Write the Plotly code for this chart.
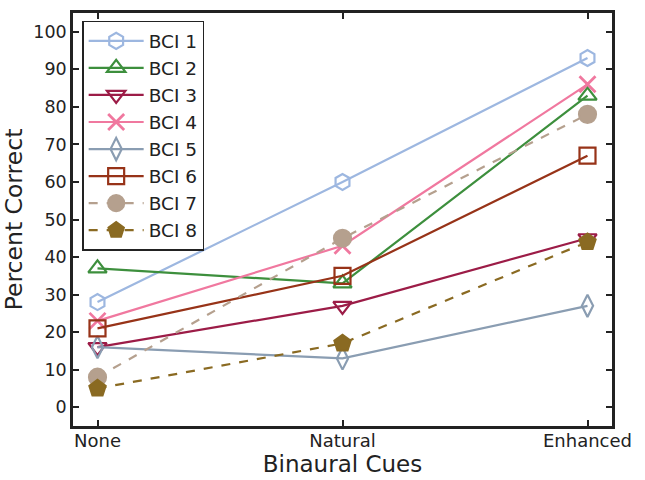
import plotly.graph_objects as go

categories = ["None", "Natural", "Enhanced"]
series_names = ["BCI 1", "BCI 2", "BCI 3", "BCI 4", "BCI 5", "BCI 6", "BCI 7", "BCI 8"]
bci1 = [28, 60, 93]
bci2 = [37, 33, 83]
bci3 = [16, 27, 45]
bci4 = [23, 43, 86]
bci5 = [16, 13, 27]
bci6 = [21, 35, 67]
bci7 = [8, 45, 78]
bci8 = [5, 17, 44]
y_ticks = list(range(0, 101, 10))

values = [bci1, bci2, bci3, bci4, bci5, bci6, bci7, bci8]
colors = ["#9db7e0", "#3d8f3d", "#9c1c47", "#f0789f", "#8a9db2", "#973318", "#b5a08e", "#8a6a22"]
symbols = ["hexagon-open", "triangle-up-open", "triangle-down-open", "x-thin-open",
           "diamond-tall-open", "square-open", "circle", "pentagon"]
dashes = ["solid"] * 6 + ["dash", "dash"]

fig = go.Figure()
for name, vals, c, s, d in zip(series_names, values, colors, symbols, dashes):
    filled = s in ("circle", "pentagon")
    marker = dict(symbol=s, size=16 if not filled else 17, color=c,
                  line=dict(color=c, width=2.2))
    if s == "x-thin-open":
        marker["line"]["width"] = 2.8
    fig.add_trace(go.Scatter(
        x=categories, y=vals, name=name, mode="lines+markers",
        line=dict(color=c, width=2.2, dash=d),
        marker=marker,
    ))

fig.update_layout(
    width=645, height=480,
    margin=dict(l=73, r=33, t=10, b=54),
    plot_bgcolor="white", paper_bgcolor="white",
    font=dict(family="DejaVu Sans", size=18, color="#222222"),
    showlegend=True,
    legend=dict(x=0.017, y=0.981, xanchor="left", yanchor="top",
                bordercolor="#222222", borderwidth=1.5, bgcolor="white",
                font=dict(size=18.5), tracegroupgap=0, itemwidth=55),
)
fig.update_xaxes(
    type="category", range=[-0.1, 2.1],
    showline=True, linecolor="#222222", linewidth=2.5, mirror="ticks",
    ticks="inside", ticklen=6, tickwidth=2, tickcolor="#222222",
    showgrid=False, zeroline=False, ticklabelstandoff=-3,
    title=dict(text="Binaural Cues", font=dict(size=23), standoff=0),
    tickfont=dict(size=18),
)
fig.update_yaxes(
    range=[-5, 105], tickvals=y_ticks,
    showline=True, linecolor="#222222", linewidth=2.5, mirror="ticks",
    ticks="inside", ticklen=6, tickwidth=2, tickcolor="#222222",
    showgrid=False, zeroline=False,
    title=dict(text="Percent Correct", font=dict(size=23.5), standoff=6),
    tickfont=dict(size=17.5),
)

fig.write_html("out.html", config={"displayModeBar": False})

with open("out.html", "r", encoding="utf-8") as f:
    html = f.read()
html = html.replace("<head>", "<head><style>html,body{margin:0;padding:0;}</style>", 1)
with open("out.html", "w", encoding="utf-8") as f:
    f.write(html)
